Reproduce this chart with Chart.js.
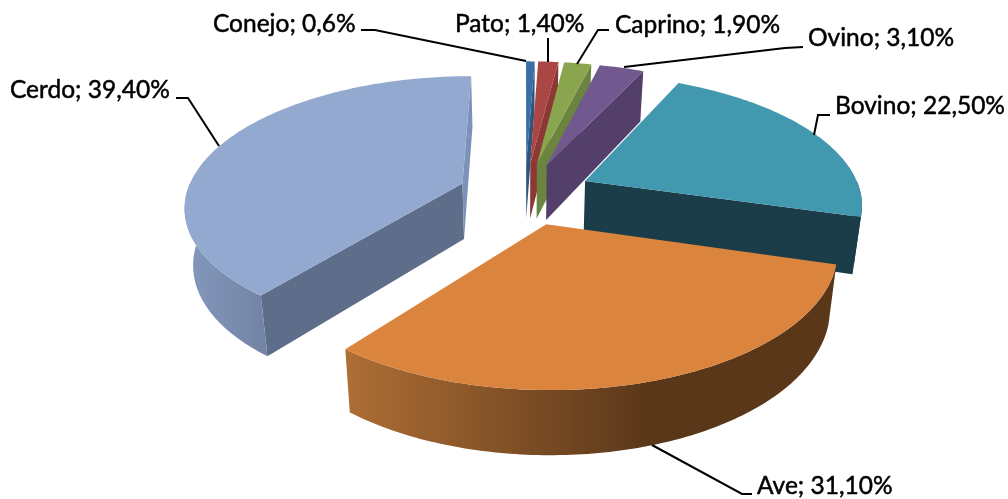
<!DOCTYPE html>
<html>
<head>
<meta charset="utf-8">
<style>
    html, body { margin: 0; padding: 0; background: #fff; }
    canvas { display: block; }
</style>
<script src="https://cdn.jsdelivr.net/npm/chart.js@4"></script>
</head>
<body>
<canvas id="graficoCarne" width="1008" height="499"></canvas>
<script>
const categorias = ['Conejo', 'Pato', 'Caprino', 'Ovino', 'Bovino', 'Ave', 'Cerdo'];
const valores = [0.6, 1.4, 1.9, 3.1, 22.5, 31.1, 39.4];
const textoValores = ['0,6%', '1,40%', '1,90%', '3,10%', '22,50%', '31,10%', '39,40%'];

const colorTapa = ['#3A6EA5', '#AA4643', '#89A54E', '#71588F', '#4198AF', '#DB843D', '#93A9CF'];
const colorCara = ['#2C5580', '#8C3835', '#6B8440', '#533F69', '#1B3C49', '#5A3719', '#7C92B8'];
const colorCaraInicio = ['#2C5580', '#8C3835', '#6B8440', '#533F69', '#1B3C49', '#A96A33', '#5E6D89'];
const colorPared = [
    ['#2C5580', '#2C5580'], ['#8C3835', '#8C3835'], ['#6B8440', '#6B8440'], ['#533F69', '#533F69'],
    ['#1B3C49', '#1B3C49'], ['#AE6E35', '#5A3719'], ['#8599BD', '#7183A5']
];
const ordenDibujo = [6, 0, 1, 2, 3, 4, 5];

// texto: [x, linea base]; guia: puntos de la linea hasta el sector
const posTexto = [[213, 32], [455, 32], [615, 33], [808, 46], [835, 114], [757, 494], [10, 98]];
const guias = [
    [[361, 30], [375, 30], [526, 61]],
    [[548, 38], [548, 62]],
    [[609, 30], [598, 30], [577, 64]],
    [[803, 47], [785, 48], [624, 67]],
    [[830, 115], [818, 115], [814, 135]],
    [[752, 494], [742, 494], [652, 445]],
    [[176, 98], [188, 98], [219, 146]]
];

const distanciaCamara = 1700;
const inclinacion = 0.463;
const altura = 56;
const reduccionBase = 0.975;

function proyectar(arc, u, v, abajo) {
    const s = distanciaCamara / (distanciaCamara - v);
    const q = abajo ? reduccionBase : 1;
    return [
        arc.x + u * s * q,
        arc.y + inclinacion * v * s * q + (abajo ? altura * s : 0)
    ];
}

function puntoBorde(arc, ang, r, abajo) {
    const medio = (arc.startAngle + arc.endAngle) / 2;
    const off = arc.options.offset;
    const u = off * Math.cos(medio) + r * Math.cos(ang);
    const v = off * Math.sin(medio) + r * Math.sin(ang);
    return proyectar(arc, u, v, abajo);
}

function rellenar(ctx, puntos, color) {
    ctx.beginPath();
    puntos.forEach((p, i) => i ? ctx.lineTo(p[0], p[1]) : ctx.moveTo(p[0], p[1]));
    ctx.closePath();
    ctx.fillStyle = color;
    ctx.fill();
}

function areaFirmada(p) {
    let a = 0;
    p.forEach((q, i) => {
        const n = p[(i + 1) % p.length];
        a += q[0] * n[1] - n[0] * q[1];
    });
    return a;
}

function curva(arc, desde, hasta, abajo) {
    const pasos = Math.max(2, Math.ceil((hasta - desde) * 60));
    const puntos = [];
    for (let i = 0; i <= pasos; i++) {
        puntos.push(puntoBorde(arc, desde + (hasta - desde) * i / pasos, arc.outerRadius, abajo));
    }
    return puntos;
}

function cara(arc, ang) {
    return [
        puntoBorde(arc, ang, 0, false),
        puntoBorde(arc, ang, arc.outerRadius, false),
        puntoBorde(arc, ang, arc.outerRadius, true),
        puntoBorde(arc, ang, 0, true)
    ];
}

const pastel3d = {
    id: 'pastel3d',
    beforeDatasetsDraw(chart) {
        const ctx = chart.ctx;
        const arcos = chart.getDatasetMeta(0).data;

        ordenDibujo.forEach(i => {
            const arc = arcos[i];

            // caras radiales, solo las que miran a la camara
            const cInicio = cara(arc, arc.startAngle);
            if (areaFirmada(cInicio) < 0) rellenar(ctx, cInicio, colorCaraInicio[i]);
            const cFin = cara(arc, arc.endAngle);
            if (areaFirmada(cFin) > 0) rellenar(ctx, cFin, colorCara[i]);

            // pared exterior, mitad delantera
            const desde = Math.max(arc.startAngle, 0);
            const hasta = Math.min(arc.endAngle, Math.PI);
            if (hasta > desde) {
                const arriba = curva(arc, desde, hasta, false);
                const abajo = curva(arc, desde, hasta, true).reverse();
                const xs = arriba.concat(abajo).map(p => p[0]);
                const grad = ctx.createLinearGradient(Math.min(...xs), 0, Math.max(...xs), 0);
                grad.addColorStop(0, colorPared[i][0]);
                grad.addColorStop(i === 5 ? 0.62 : 1, colorPared[i][1]);
                grad.addColorStop(1, colorPared[i][1]);
                rellenar(ctx, arriba.concat(abajo), grad);
            }

            // tapa
            const tapa = [puntoBorde(arc, 0, 0, false)].concat(curva(arc, arc.startAngle, arc.endAngle, false));
            rellenar(ctx, tapa, colorTapa[i]);
        });

        return false;
    },
    afterDraw(chart) {
        const ctx = chart.ctx;
        ctx.save();
        ctx.strokeStyle = '#000';
        ctx.lineWidth = 2;
        guias.forEach(g => {
            ctx.beginPath();
            g.forEach((p, i) => i ? ctx.lineTo(p[0], p[1]) : ctx.moveTo(p[0], p[1]));
            ctx.stroke();
        });
        ctx.fillStyle = '#000';
        ctx.font = '24.5px Lato';
        ctx.lineWidth = 0.5;
        ctx.textAlign = 'left';
        ctx.textBaseline = 'alphabetic';
        categorias.forEach((c, i) => {
            const texto = `${c}; ${textoValores[i]}`;
            ctx.fillText(texto, posTexto[i][0], posTexto[i][1]);
            ctx.strokeText(texto, posTexto[i][0], posTexto[i][1]);
        });
        ctx.restore();
    }
};

new Chart(document.getElementById('graficoCarne').getContext('2d'), {
    type: 'pie',
    data: {
        labels: categorias,
        datasets: [{
            data: valores,
            backgroundColor: colorTapa,
            borderWidth: 0,
            offset: 67
        }]
    },
    options: {
        responsive: false,
        animation: false,
        radius: 276,
        layout: { padding: { left: 42, bottom: 112 } },
        plugins: {
            legend: { display: false },
            tooltip: { enabled: false }
        }
    },
    plugins: [pastel3d]
});
</script>
</body>
</html>
